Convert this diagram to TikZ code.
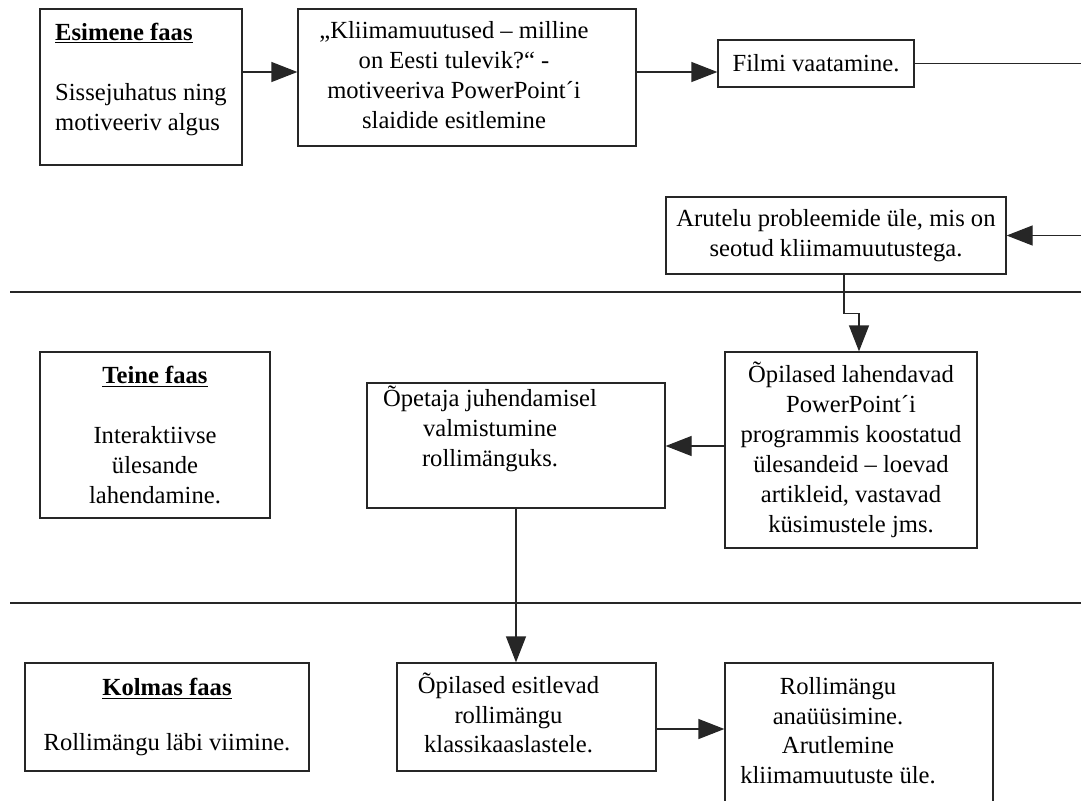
\documentclass[tikz,border=0pt]{standalone}
\usepackage{fontspec}
\setmainfont{Liberation Serif}
\usetikzlibrary{arrows.meta, positioning, calc}

\begin{document}
\begin{tikzpicture}[
  pbox/.style={draw=black!85, line width=0.9pt, fill=white, align=center, inner sep=0pt, font=\fontsize{17.5}{21.3}\selectfont},
  arr/.style={draw=black!85, line width=0.9pt, -{Triangle[length=6.5mm, width=5mm]}},
  sepline/.style={draw=black!85, line width=0.9pt}
]
  \useasboundingbox (0,0) rectangle (27.025,-20);
  \clip (0,0) rectangle (27.025,-20);

  % phase separators
  \draw[sepline] (0.25,-7.3) -- (27.2,-7.3);
  \draw[sepline] (0.25,-15.075) -- (27.2,-15.075);

  % first phase
  \node[pbox, align=left, minimum width=5.05cm, minimum height=3.9cm] (phaseone) at (3.525,-2.175) {\underline{\textbf{Esimene faas}}\\[\baselineskip] Sissejuhatus ning\\ motiveeriv algus\\[-0.3\baselineskip]\mbox{}};
  \node[pbox, minimum width=8.45cm, minimum height=3.425cm] (slides) at (11.675,-1.9375) {\begin{tabular}{@{}c@{}}„Kliimamuutused – milline\\ on Eesti tulevik?“ -\\ motiveeriva PowerPoint´i\\ slaidide esitlemine\end{tabular}\hspace{0.65cm}};
  \node[pbox, minimum width=4.9cm, minimum height=1.175cm] (film) at (20.4,-1.5875) {Filmi vaatamine.};
  \node[pbox, minimum width=8.5cm, minimum height=1.925cm] (discuss) at (20.9,-5.8875) {Arutelu probleemide üle, mis on\\ seotud kliimamuutustega.};

  % second phase
  \node[pbox, minimum width=5.75cm, minimum height=4.15cm] (phasetwo) at (3.875,-10.875) {\underline{\textbf{Teine faas}}\\[\baselineskip] Interaktiivse\\ ülesande\\ lahendamine.};
  \node[pbox, minimum width=6.3cm, minimum height=4.9cm] (tasks) at (21.275,-11.25) {Õpilased lahendavad\\ PowerPoint´i\\ programmis koostatud\\ ülesandeid – loevad\\ artikleid, vastavad\\ küsimustele jms.};
  \node[pbox, minimum width=7.45cm, minimum height=3.125cm] (prep) at (12.9,-11.1375) {\begin{tabular}{@{}c@{}}Õpetaja juhendamisel\\ valmistumine\\ rollimänguks.\\ \mbox{}\end{tabular}\hspace{1.3cm}};

  % third phase
  \node[pbox, minimum width=7.1cm, minimum height=2.7cm] (phasethree) at (4.175,-17.925) {\underline{\textbf{Kolmas faas}}\\[0.83\baselineskip] Rollimängu läbi viimine.};
  \node[pbox, minimum width=6.475cm, minimum height=2.7cm] (present) at (13.1625,-17.925) {\begin{tabular}{@{}c@{}}Õpilased esitlevad\\ rollimängu\\ klassikaaslastele.\end{tabular}\hspace{0.9cm}};
  \node[pbox, minimum width=6.7cm, minimum height=3.5cm] (analysis) at (21.475,-18.325) {\begin{tabular}{@{}c@{}}Rollimängu\\ anaüüsimine.\\ Arutlemine\\ kliimamuutuste üle.\end{tabular}\hspace{1.05cm}};

  % connectors
  \coordinate (rturn) at (27.6,-1.5875);
  \draw[arr] ([yshift=0.375cm]phaseone.east) -- ([yshift=0.375cm]phaseone.east -| slides.west);
  \draw[arr] ([yshift=0.1375cm]slides.east) -- ([yshift=0.1375cm]slides.east -| film.west);
  \draw[arr] (film.east) -- (rturn) |- (discuss.east);
  \draw[arr] ([xshift=0.2cm]discuss.south) -- ++(0,-0.975) -| ([xshift=0.2cm]tasks.north);
  \draw[arr] ([yshift=0.1cm]tasks.west) -- ([yshift=0.1cm]tasks.west -| prep.east);
  \draw[arr] (prep.south) -- (prep.south |- present.north);
  \draw[arr] ([yshift=-0.3cm]present.east) -- ([yshift=-0.3cm]present.east -| analysis.west);
\end{tikzpicture}
\end{document}
